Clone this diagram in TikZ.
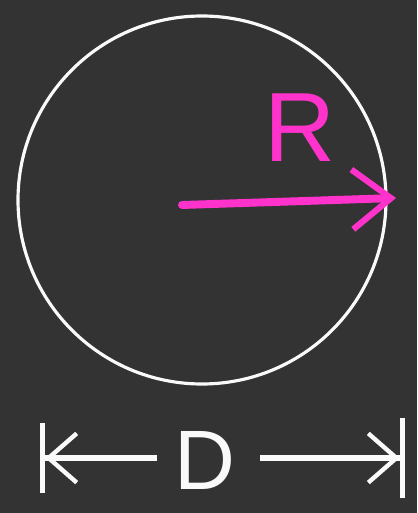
\documentclass[tikz,border=0pt]{standalone}
\usepackage{fontspec}
\setmainfont{Liberation Sans}
\usetikzlibrary{arrows.meta,positioning}
\definecolor{bgdark}{RGB}{51,51,51}
\definecolor{chalk}{RGB}{250,250,250}
\definecolor{radpink}{RGB}{255,51,204}
\tikzset{
  rim/.style={draw=chalk, line width=1.8pt},
  radarr/.style={-{Straight Barb[length=22pt, width=34pt, line width=3.5pt]}, radpink, line width=4.5pt, line cap=round},
  dimleft/.style={{Bar[width=40pt, line width=3pt]Straight Barb[length=16pt, width=28pt, line width=2.5pt]}-, chalk, line width=3.2pt},
  dimright/.style={-{Straight Barb[length=16pt, width=28pt, line width=2.5pt]Bar[width=46pt, line width=3pt]}, chalk, line width=3.2pt},
  biglbl/.style={font=\fontsize{56}{56}\selectfont, inner sep=0pt},
}
\begin{document}
\begin{tikzpicture}[x=0.02cm, y=-0.02cm]
  \fill[bgdark] (0,0) rectangle (417,513);
  \useasboundingbox (0,0) rectangle (417,513);
  % circle and radius
  \coordinate (ctr) at (182,205);
  \coordinate (edge) at (396,198);
  \draw[rim] (202,200) circle (184);
  \draw[radarr] (ctr) -- (edge);
  \node[biglbl, text=radpink] (rlab) at (300,128) {R};
  % diameter
  \node[biglbl, text=chalk, font=\fontsize{48}{48}\selectfont] (dlab) at (205,460) {D};
  \coordinate (dleft) at (40,458);
  \coordinate (dright) at (405,458);
  \draw[dimleft] (dleft) -- ([xshift=-10]dlab.west |- dleft);
  \draw[dimright] ([xshift=14]dlab.east |- dright) -- (dright);
\end{tikzpicture}
\end{document}
